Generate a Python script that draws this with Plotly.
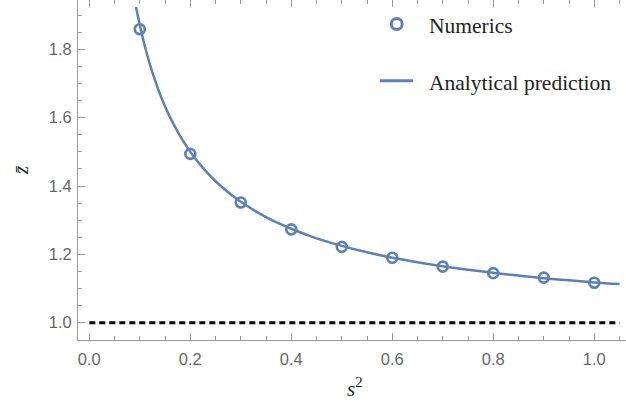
import plotly.graph_objects as go

# Numerical results: mean value z̄ against s²
s2_numerics = [0.1, 0.2, 0.3, 0.4, 0.5, 0.6, 0.7, 0.8, 0.9, 1.0]
z_numerics = [1.859, 1.494, 1.352, 1.273, 1.222, 1.190, 1.164, 1.145, 1.132, 1.117]

# Analytical prediction curve
s2_analytic = [0.0925, 0.10, 0.11, 0.12, 0.13, 0.14, 0.15, 0.16, 0.18, 0.20,
               0.22, 0.25, 0.28, 0.30, 0.35, 0.40, 0.45, 0.50, 0.55, 0.60,
               0.65, 0.70, 0.75, 0.80, 0.85, 0.90, 0.95, 1.00, 1.05]
z_analytic = [1.924, 1.871, 1.809, 1.756, 1.710, 1.669, 1.633, 1.601, 1.546, 1.500,
              1.462, 1.414, 1.376, 1.354, 1.309, 1.275, 1.247, 1.225, 1.206, 1.190,
              1.177, 1.165, 1.155, 1.146, 1.138, 1.130, 1.124, 1.118, 1.113]

# Asymptotic level z̄ = 1
s2_asym = [0.0, 1.05]
z_asym = [1.0, 1.0]

x_tick_vals = [0.0, 0.2, 0.4, 0.6, 0.8, 1.0]
x_tick_text = ["0.0", "0.2", "0.4", "0.6", "0.8", "1.0"]
y_tick_vals = [1.0, 1.2, 1.4, 1.6, 1.8]
y_tick_text = ["1.0", "1.2", "1.4", "1.6", "1.8"]

BLUE = "#5E81B5"
FRAME = "#9a9a9a"
TICKFONT = dict(family="Liberation Sans, Arial, sans-serif", size=16.5, color="#666666")
SERIF = "Liberation Serif, Times New Roman, serif"

W, H = 626, 404
ML, MR, MT, MB = 78, 0, 0, 64
PW, PH = W - ML - MR, H - MT - MB

def px_to_paper(px, py):
    return (px - ML) / PW, (H - MB - py) / PH

fig = go.Figure()

fig.add_trace(go.Scatter(
    x=s2_asym, y=z_asym, mode="lines", xaxis="x2",
    line=dict(color="black", width=3, dash="6px,4px"),
    hoverinfo="skip", showlegend=False,
))
fig.add_trace(go.Scatter(
    x=s2_analytic, y=z_analytic, mode="lines", name="Analytical prediction",
    line=dict(color=BLUE, width=2.5, shape="spline", smoothing=1.0),
    showlegend=False,
))
fig.add_trace(go.Scatter(
    x=s2_numerics, y=z_numerics, mode="markers", name="Numerics",
    marker=dict(symbol="circle-open", size=10, color=BLUE, line=dict(color=BLUE, width=2.6)),
    showlegend=False,
))

x_range = [-0.0224, 1.0628]
y_range = [0.9494, 1.9444]

common_ticks = dict(
    ticks="inside", ticklen=7, tickwidth=1, tickcolor=FRAME,
    minor=dict(ticks="inside", ticklen=4, tickwidth=1, tickcolor=FRAME, dtick=0.05, showgrid=False),
    showgrid=False, zeroline=False,
)

fig.update_layout(
    width=W, height=H,
    margin=dict(l=ML, r=MR, t=MT, b=MB),
    paper_bgcolor="white", plot_bgcolor="white",
    showlegend=False,
    xaxis=dict(
        range=x_range, tickvals=x_tick_vals, ticktext=x_tick_text,
        tickfont=TICKFONT, showline=True, linecolor=FRAME, linewidth=1,
        ticklabelstandoff=4, **common_ticks,
    ),
    xaxis2=dict(
        range=x_range, overlaying="x", side="top", matches="x",
        tickvals=x_tick_vals, showticklabels=False, showline=False,
        **common_ticks,
    ),
    yaxis=dict(
        range=y_range, tickvals=y_tick_vals, ticktext=y_tick_text,
        tickfont=TICKFONT, showline=True, linecolor=FRAME, linewidth=1,
        ticklabelstandoff=2, **common_ticks,
    ),
)

# Axis titles
ax, ay = px_to_paper(355, 387)
fig.add_annotation(text="<i>s</i><sup>2</sup>", xref="paper", yref="paper", x=ax, y=ay,
                   showarrow=False, xanchor="center", yanchor="middle",
                   font=dict(family=SERIF, size=21, color="#222222"))
ax, ay = px_to_paper(21, 170)
fig.add_annotation(text="<i>z̄</i>", xref="paper", yref="paper", x=ax, y=ay,
                   showarrow=False, textangle=-90, xanchor="center", yanchor="middle",
                   font=dict(family=SERIF, size=21, color="#222222"))

# Legend, drawn by hand
cx, cy = px_to_paper(396.7, 24)
fig.add_shape(type="circle", xref="paper", yref="paper", xsizemode="pixel", ysizemode="pixel",
              xanchor=cx, yanchor=cy, x0=-5.5, x1=5.5, y0=-5.5, y1=5.5,
              line=dict(color=BLUE, width=3), fillcolor="rgba(0,0,0,0)")
lx0, ly = px_to_paper(380, 80.7)
lx1, _ = px_to_paper(413, 80.7)
fig.add_shape(type="line", xref="paper", yref="paper", x0=lx0, x1=lx1, y0=ly, y1=ly,
              line=dict(color=BLUE, width=3))
tx, ty = px_to_paper(427, 26)
fig.add_annotation(text="Numerics", xref="paper", yref="paper", x=tx, y=ty,
                   showarrow=False, xanchor="left", yanchor="middle",
                   font=dict(family=SERIF, size=21.5, color="#222222"))
tx, ty = px_to_paper(427, 83.3)
fig.add_annotation(text="Analytical prediction", xref="paper", yref="paper", x=tx, y=ty,
                   showarrow=False, xanchor="left", yanchor="middle",
                   font=dict(family=SERIF, size=21.5, color="#222222"))

fig.write_html("out.html")
